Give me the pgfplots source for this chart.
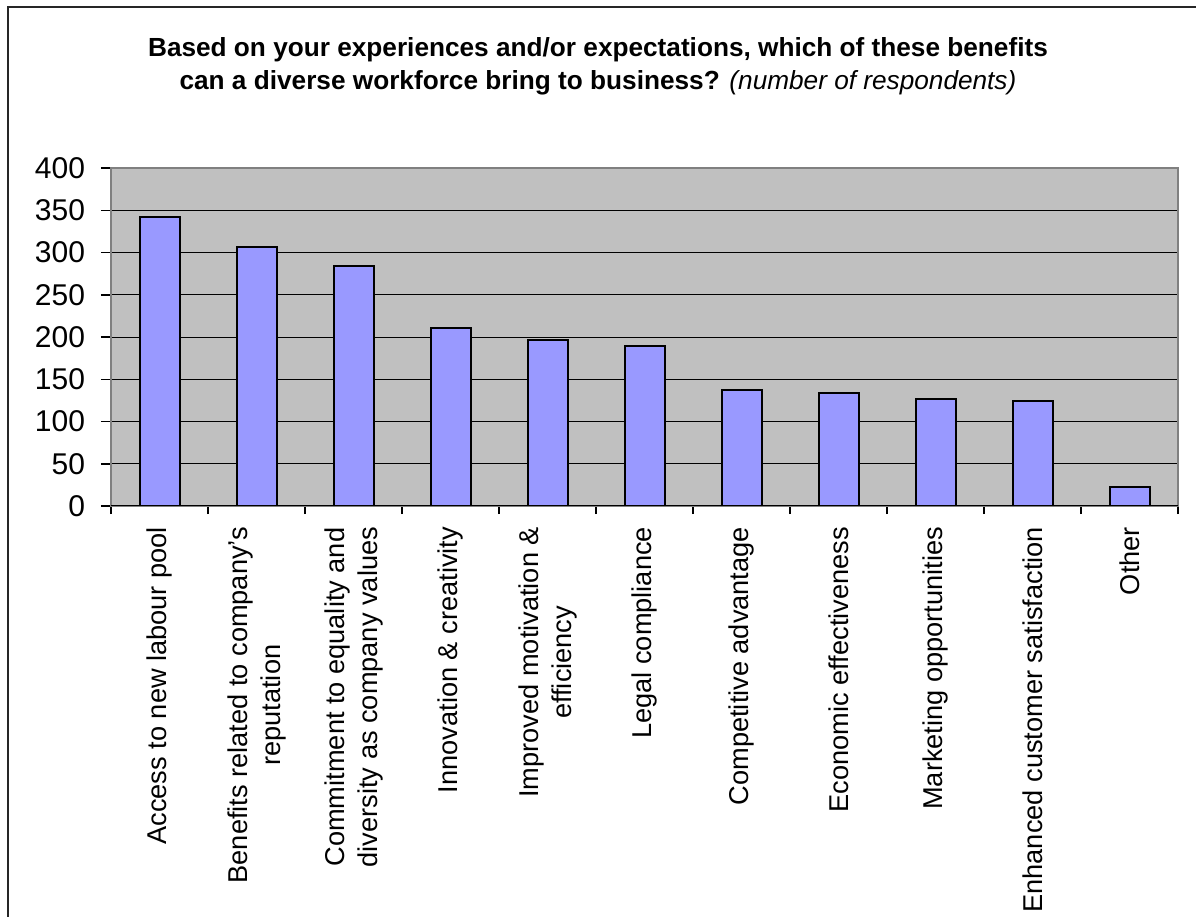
\documentclass[border=0pt]{standalone}
\usepackage{fontspec}
\setmainfont{Liberation Sans}
\usepackage{pgfplots}
\pgfplotsset{compat=1.18}
\definecolor{barfill}{HTML}{9999FF}
\definecolor{plotbg}{HTML}{C0C0C0}
\definecolor{framegray}{HTML}{808080}
\begin{document}
\begin{tikzpicture}
\useasboundingbox (0,0) rectangle (598bp,458.5bp);
\draw[line width=1bp, black!85] (4bp,0) -- (4bp,455bp) -- (598bp,455bp);
\begin{axis}[
  at={(55.5bp,205.5bp)}, anchor=south west,
  scale only axis, width=533.5bp, height=169bp,
  xmin=-0.5, xmax=10.5, ymin=0, ymax=400,
  axis background/.style={fill=plotbg},
  axis line style={draw=framegray, line width=1bp},
  ybar, bar width=20bp,
  ytick={0,50,...,400},
  ymajorgrids, grid style={black, line width=0.5bp},
  xtick={0,...,10},
  xticklabels={{Access to new labour pool},{Benefits related to company’s\\reputation},{Commitment to equality and\\diversity as company values},{Innovation \& creativity},{Improved motivation \&\\efficiency},{Legal compliance},{Competitive advantage},{Economic effectiveness},{Marketing opportunities},{Enhanced customer satisfaction},{Other}},
  minor xtick={-0.5,0.5,...,10.5},
  tick pos=left,
  tick align=outside,
  major tick length=5bp, minor tick length=4bp,
  major x tick style={draw=none},
  minor x tick style={draw=black, line width=0.75bp},
  major y tick style={draw=black, line width=0.75bp},
  /pgf/number format/assume math mode=true,
  xticklabel shift=2bp,
  yticklabel shift=4.5bp,
  xticklabel style={rotate=90, anchor=east, align=center, font=\fontsize{13.6bp}{16.5bp}\selectfont},
  yticklabel style={font=\fontsize{15bp}{18bp}\selectfont},
  title={\textbf{Based on your experiences and/or expectations, which of these benefits}\\\textbf{can a diverse workforce bring to business?} \textit{(number of respondents)}},
  title style={at={(rel axis cs:0.4564,1.2663)}, anchor=center, yshift=0pt, align=center, font=\fontsize{13.1bp}{16.5bp}\selectfont},
]
\addplot[fill=barfill, draw=black, line width=1bp] coordinates {
  (0,342) (1,307) (2,284) (3,211) (4,196) (5,189) (6,137) (7,134) (8,127) (9,124) (10,22)
};
\draw[black, line width=0.75bp] (rel axis cs:0,0) -- (rel axis cs:1,0);
\end{axis}
\end{tikzpicture}
\end{document}
